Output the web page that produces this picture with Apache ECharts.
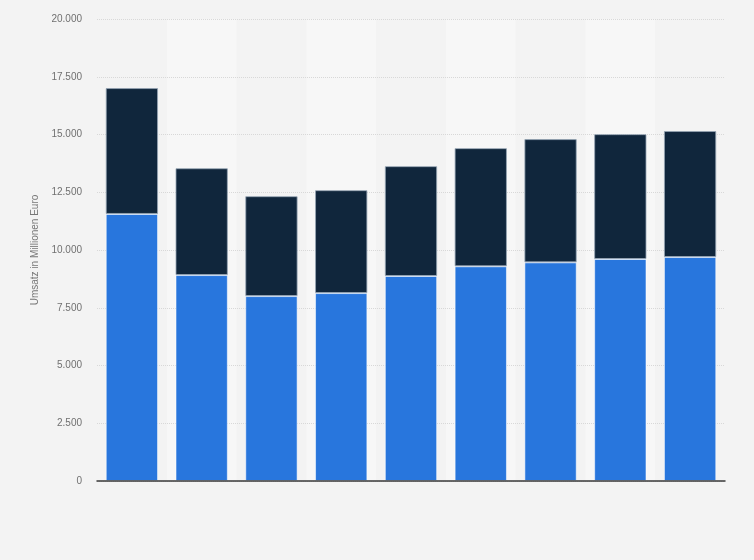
<!DOCTYPE html>
<html>
<head>
<meta charset="utf-8">
<title>Umsatz</title>
<script src="https://cdn.jsdelivr.net/npm/echarts@6/dist/echarts.min.js"></script>
<style>
  html, body { margin: 0; padding: 0; background: #f3f3f3; }
  #main { width: 754px; height: 560px; }
</style>
</head>
<body>
<div id="main"></div>
<script>
// Kategorien (Beschriftung im Original nicht sichtbar)
var categories = ['1', '2', '3', '4', '5', '6', '7', '8', '9'];
// unterer Teil (blau) und oberer Teil (dunkel), in Millionen Euro
var blueValues = [11560, 8915, 8005, 8135, 8875, 9295, 9465, 9610, 9695];
var darkValues = [5450, 4625, 4325, 4455, 4755, 5115, 5335, 5405, 5455];
var yTicks = { min: 0, max: 20000, interval: 2500 };

function fmt(v) {
    return String(v).replace(/\B(?=(\d{3})+(?!\d))/g, '.');
}

var myChart = echarts.init(document.getElementById('main'));

var option = {
    backgroundColor: '#f3f3f3',
    animation: false,
    textStyle: { fontFamily: 'Liberation Sans, Arial, sans-serif' },
    grid: { left: 97, right: 29, top: 19, bottom: 79 },
    xAxis: [
        {
            // sichtbare Achse, ueber den Gitterlinien
            type: 'category',
            data: categories,
            z: 3,
            axisLine: { lineStyle: { color: '#3a3a3a', width: 1.5 } },
            axisTick: { show: false },
            axisLabel: { show: false }
        },
        {
            // nur fuer die Streifen im Hintergrund
            type: 'category',
            data: categories,
            position: 'bottom',
            z: 0,
            axisLine: { show: false },
            axisTick: { show: false },
            axisLabel: { show: false },
            splitArea: { show: true, areaStyle: { color: ['#f3f3f3', '#f7f7f7'] } }
        }
    ],
    yAxis: {
        type: 'value',
        min: yTicks.min,
        max: yTicks.max,
        interval: yTicks.interval,
        z: 1,
        name: 'Umsatz in Millionen Euro',
        nameLocation: 'middle',
        nameGap: 57,
        nameTextStyle: { color: '#777', fontSize: 10 },
        axisLine: { show: false },
        axisTick: { show: false },
        axisLabel: { color: '#707070', fontSize: 10, margin: 15, formatter: fmt },
        splitLine: { show: true, lineStyle: { color: '#d8d8d8', type: [1, 1] } }
    },
    series: [
        {
            name: 'blau',
            type: 'bar',
            stack: 'gesamt',
            barWidth: '75%',
            data: blueValues,
            itemStyle: { color: '#2876dd', borderColor: 'rgba(255,255,255,0.55)', borderWidth: 1 }
        },
        {
            name: 'dunkel',
            type: 'bar',
            stack: 'gesamt',
            barWidth: '75%',
            data: darkValues,
            itemStyle: { color: '#10263c', borderColor: 'rgba(150,165,180,0.8)', borderWidth: 1 }
        }
    ]
};

myChart.setOption(option);
</script>
</body>
</html>
